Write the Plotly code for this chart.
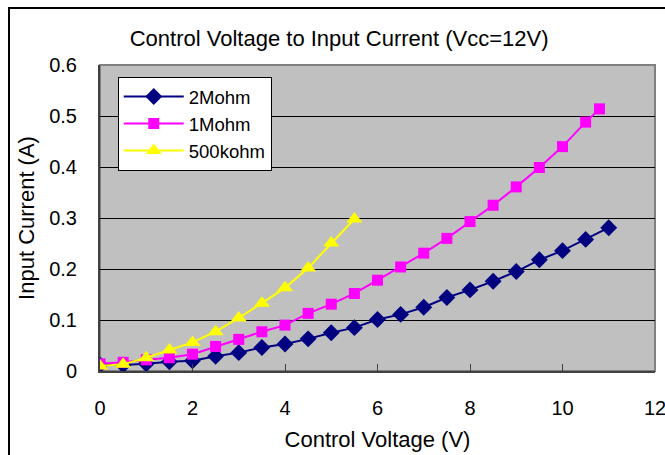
import plotly.graph_objects as go

x_2m = [0, 0.5, 1, 1.5, 2, 2.5, 3, 3.5, 4, 4.5, 5, 5.5, 6, 6.5, 7, 7.5, 8, 8.5, 9, 9.5, 10, 10.5, 11]
y_2m = [0.012, 0.012, 0.014, 0.018, 0.020, 0.029, 0.036, 0.046, 0.053, 0.063, 0.075, 0.085, 0.101,
        0.111, 0.125, 0.144, 0.159, 0.176, 0.195, 0.218, 0.236, 0.258, 0.281]

x_1m = [0, 0.5, 1, 1.5, 2, 2.5, 3, 3.5, 4, 4.5, 5, 5.5, 6, 6.5, 7, 7.5, 8, 8.5, 9, 9.5, 10, 10.5, 10.8]
y_1m = [0.014, 0.017, 0.022, 0.026, 0.033, 0.048, 0.062, 0.077, 0.090, 0.113, 0.131, 0.152, 0.178,
        0.204, 0.231, 0.260, 0.293, 0.325, 0.361, 0.399, 0.440, 0.488, 0.514]

x_500k = [0, 0.5, 1, 1.5, 2, 2.5, 3, 3.5, 4, 4.5, 5, 5.5]
y_500k = [0.010, 0.013, 0.026, 0.041, 0.056, 0.077, 0.104, 0.133, 0.163, 0.202, 0.251, 0.298]

x_ticks = [0, 2, 4, 6, 8, 10, 12]
y_ticks = [0, 0.1, 0.2, 0.3, 0.4, 0.5, 0.6]
y_tick_text = ["0", "0.1", "0.2", "0.3", "0.4", "0.5", "0.6"]

FONT = "Liberation Sans, Arial, sans-serif"

fig = go.Figure()
fig.add_trace(go.Scatter(x=x_2m, y=y_2m, name="2Mohm", mode="lines+markers",
                         line=dict(color="#000080", width=2),
                         marker=dict(symbol="diamond", size=13, color="#000080")))
fig.add_trace(go.Scatter(x=x_1m, y=y_1m, name="1Mohm", mode="lines+markers",
                         line=dict(color="#FF00FF", width=2),
                         marker=dict(symbol="square", size=11, color="#FF00FF")))
fig.add_trace(go.Scatter(x=x_500k, y=y_500k, name="500kohm", mode="lines+markers",
                         line=dict(color="#FFFF00", width=2),
                         marker=dict(symbol="triangle-up", size=14, color="#FFFF00")))

fig.update_layout(
    width=665, height=455,
    margin=dict(l=100, r=10, t=65, b=84),
    paper_bgcolor="white",
    plot_bgcolor="#C0C0C0",
    font=dict(family=FONT, color="black", size=20),
    title=dict(text="Control Voltage to Input Current (Vcc=12V)", x=0.51, xanchor="center",
               y=1 - 38 / 455, yanchor="middle", font=dict(size=22, family=FONT)),
    xaxis=dict(range=[0, 12], tickvals=x_ticks, showgrid=False, zeroline=False,
               showline=True, linecolor="#404040", linewidth=2, mirror=False,
               ticks="inside", ticklen=7, tickcolor="#404040", automargin=False,
               ticklabelstandoff=18, tickfont=dict(size=20), ticklabeloverflow="allow",
               title=dict(text="Control Voltage (V)", font=dict(size=22), standoff=14)),
    yaxis=dict(range=[0, 0.6], tickvals=y_ticks, ticktext=y_tick_text, showgrid=True,
               gridcolor="black", gridwidth=1, zeroline=False, automargin=False,
               showline=True, linecolor="#404040", linewidth=2,
               ticks="", ticklabelstandoff=17, tickfont=dict(size=20), ticklabeloverflow="allow",
               title=dict(text="Input Current (A)", font=dict(size=22), standoff=8)),
    legend=dict(x=0.032, y=0.961, xanchor="left", yanchor="top",
                bgcolor="white", bordercolor="black", borderwidth=1,
                font=dict(size=18.5), tracegroupgap=0, itemwidth=60),
    showlegend=True,
)

# plot area border (gray top/right)
fig.add_shape(type="rect", xref="paper", yref="paper", x0=0, x1=1, y0=0, y1=1,
              line=dict(color="#808080", width=2), layer="below")
# outer chart border
fig.add_shape(type="rect", xref="paper", yref="paper",
              x0=(9 - 100) / 555, x1=(700 - 100) / 555,
              y0=(371 - 500) / 306, y1=(371 - 8) / 306,
              line=dict(color="black", width=2))

fig.write_html("out.html")
